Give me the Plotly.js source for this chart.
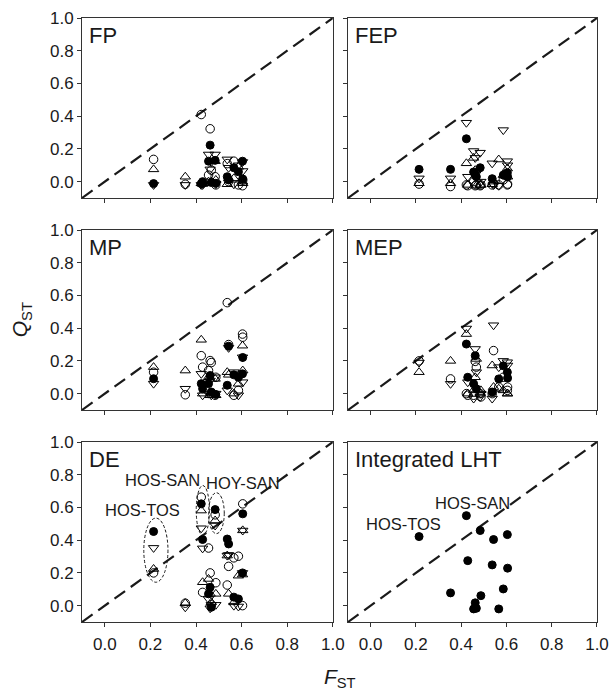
<!DOCTYPE html>
<html>
<head>
<meta charset="utf-8">
<script src="https://cdn.plot.ly/plotly-3.0.1.min.js"></script>
<style>html,body{margin:0;padding:0;background:#fff;}#chart{width:616px;height:690px;}</style>
</head>
<body>
<div id="chart"></div>
<script>
// F_ST of the 15 population pairs
const fst = [0.214, 0.353, 0.423, 0.429, 0.455, 0.462, 0.467, 0.484, 0.487, 0.537, 0.543, 0.566, 0.586, 0.604, 0.605];
const oneToOne = [-0.1, 1.0];
const panelNames = ["FP", "FEP", "MP", "MEP", "DE", "Integrated LHT"];
const tickVals = [0.0, 0.2, 0.4, 0.6, 0.8, 1.0];

// Q_ST values: filled circles, open circles, up triangles, down triangles
const fpFilled = [-0.012, null, -0.012, 0.0, 0.125, 0.223, -0.005, 0.13, -0.01, 0.03, 0.01, 0.085, 0.06, 0.125, 0.016];
const fpOpen   = [0.136, -0.016, 0.41, -0.01, 0.04, 0.323, 0.07, 0.03, -0.02, 0.11, 0.0, 0.125, -0.02, -0.025, 0.01];
const fpUp     = [0.075, 0.03, -0.01, -0.015, 0.0, -0.01, 0.0, 0.125, 0.01, -0.016, 0.02, 0.02, 0.09, 0.0, -0.01];
const fpDown   = [-0.02, -0.02, -0.02, -0.02, 0.166, 0.075, 0.12, 0.166, -0.015, 0.136, 0.085, -0.016, 0.1, 0.12, 0.065];

const fepFilled = [0.075, 0.075, 0.262, null, 0.059, 0.04, 0.03, 0.085, null, 0.018, null, null, 0.04, 0.055, 0.03];
const fepOpen   = [-0.015, -0.03, -0.02, -0.025, 0.0, -0.025, -0.02, -0.025, -0.02, -0.02, -0.01, -0.02, 0.01, -0.02, -0.015];
const fepUp     = [-0.01, -0.01, 0.112, -0.02, 0.145, 0.07, -0.025, -0.02, -0.02, -0.016, 0.0, 0.135, 0.04, 0.08, 0.03];
const fepDown   = [0.02, 0.02, 0.36, 0.03, 0.187, 0.145, 0.05, 0.177, 0.0, 0.112, -0.02, -0.025, 0.315, 0.125, 0.1];

const mpFilled = [0.091, null, 0.061, 0.03, 0.061, 0.111, 0.01, null, -0.005, 0.051, 0.29, 0.115, 0.1, 0.121, 0.221];
const mpOpen   = [0.131, -0.007, 0.232, 0.162, 0.141, 0.202, 0.19, -0.01, 0.1, 0.556, 0.3, -0.01, 0.02, 0.364, 0.345];
const mpUp     = [0.162, 0.141, 0.329, 0.0, 0.1, -0.01, 0.005, 0.09, -0.01, 0.131, 0.115, 0.0, 0.06, 0.293, 0.141];
const mpDown   = [0.061, 0.03, 0.121, -0.01, 0.0, 0.08, -0.01, 0.1, 0.0, 0.02, 0.28, 0.131, -0.01, 0.222, 0.07];

const mepFilled = [null, null, 0.303, 0.1, 0.06, 0.232, 0.03, null, null, 0.01, null, 0.09, 0.17, 0.131, 0.095];
const mepOpen   = [0.2, 0.09, 0.0, -0.01, -0.01, 0.197, 0.162, 0.0, -0.02, 0.0, 0.263, 0.04, 0.1, 0.02, 0.04];
const mepUp     = [0.131, 0.2, 0.364, 0.0, 0.02, 0.1, 0.212, 0.0, 0.02, 0.172, 0.04, 0.03, 0.02, 0.0, 0.0];
const mepDown   = [0.19, 0.06, 0.398, 0.07, -0.03, 0.273, 0.131, -0.02, 0.0, -0.03, 0.418, 0.162, 0.2, 0.192, 0.172];

const deFilled = [0.453, null, 0.622, 0.404, 0.072, 0.112, -0.01, 0.587, null, 0.407, 0.377, 0.052, 0.041, 0.2, 0.561];
const deOpen   = [0.2, 0.015, 0.663, 0.081, 0.352, 0.2, 0.005, 0.555, 0.14, 0.126, 0.24, 0.292, 0.302, 0.0, 0.622];
const deUp     = [0.224, 0.015, 0.581, 0.143, 0.163, 0.072, 0.02, 0.52, 0.072, 0.306, 0.072, 0.02, 0.183, 0.19, 0.46];
const deDown   = [0.353, -0.01, 0.473, 0.35, 0.04, -0.016, 0.005, 0.49, 0.005, 0.306, 0.31, 0.0, -0.005, 0.2, 0.459];

const intFilled = [0.422, 0.078, 0.55, 0.275, -0.02, 0.017, -0.016, 0.459, 0.061, 0.249, 0.404, -0.02, 0.102, 0.434, 0.229];

// pair labels (label, F_ST, Q_ST position) and ellipse extents in DE
const deLabels = [["HOS-SAN", 0.253, 0.77], ["HOY-SAN", 0.608, 0.75], ["HOS-TOS", 0.165, 0.585]];
const intLabels = [["HOS-SAN", 0.45, 0.626], ["HOS-TOS", 0.144, 0.50]];
const deEllipses = [[0.171, 0.277, 0.143, 0.535], [0.401, 0.459, 0.43, 0.734], [0.455, 0.524, 0.44, 0.69]];

const panels = [
  [fpFilled, fpOpen, fpUp, fpDown],
  [fepFilled, fepOpen, fepUp, fepDown],
  [mpFilled, mpOpen, mpUp, mpDown],
  [mepFilled, mepOpen, mepUp, mepDown],
  [deFilled, deOpen, deUp, deDown],
  [intFilled]
];

const FONT = "Liberation Sans, Arial, sans-serif";
const INK = "#1a1a1a";
const symbols = ["circle", "circle-open", "triangle-up-open", "triangle-down-open"];
const sizes = [8, 8.5, 9, 9];

const traces = [];
const layout = {
  width: 616, height: 690,
  margin: {l: 82, r: 19, t: 18, b: 68},
  paper_bgcolor: "#fff", plot_bgcolor: "#fff",
  showlegend: false,
  font: {family: FONT, color: INK},
  annotations: [], shapes: []
};

const xDomains = [[0, 0.487], [0.5165, 1]];
const yDomains = [[0.702, 1], [0.351, 0.649], [0, 0.298]];

panels.forEach((series, i) => {
  const n = i + 1;
  const xa = "x" + (n === 1 ? "" : n), ya = "y" + (n === 1 ? "" : n);
  const col = i % 2, row = Math.floor(i / 2);
  // 1:1 reference line
  traces.push({x: oneToOne, y: oneToOne, xaxis: xa, yaxis: ya, mode: "lines",
    line: {color: INK, width: 2.2, dash: "13px,7px"}, hoverinfo: "skip"});
  series.forEach((ys, s) => {
    traces.push({x: fst, y: ys, xaxis: xa, yaxis: ya, mode: "markers",
      marker: {symbol: symbols[s], size: sizes[s], color: "#000", line: {color: "#000", width: 1}}});
  });
  const axBase = {range: [-0.1, 1.0], showgrid: false, zeroline: false, showline: true, mirror: true,
    linecolor: "#333", linewidth: 1, ticks: "outside", ticklen: 4, tickcolor: "#333",
    tickvals: tickVals, tickformat: ".1f", tickfont: {family: FONT, size: 17, color: INK}, fixedrange: true};
  layout["xaxis" + (n === 1 ? "" : n)] = Object.assign({}, axBase, {domain: xDomains[col], anchor: ya,
    showticklabels: row === 2, ticklabelstandoff: 3});
  layout["yaxis" + (n === 1 ? "" : n)] = Object.assign({}, axBase, {domain: yDomains[row], anchor: xa,
    showticklabels: col === 0});
  layout.annotations.push({text: panelNames[i], xref: xa + " domain", yref: ya + " domain",
    x: 0.02, y: 0.985, xanchor: "left", yanchor: "top", showarrow: false,
    font: {family: FONT, size: 22, color: INK}});
});

deLabels.forEach(l => layout.annotations.push({text: l[0], xref: "x5", yref: "y5", x: l[1], y: l[2],
  showarrow: false, font: {family: FONT, size: 16.5, color: INK}}));
intLabels.forEach(l => layout.annotations.push({text: l[0], xref: "x6", yref: "y6", x: l[1], y: l[2],
  showarrow: false, font: {family: FONT, size: 16.5, color: INK}}));
deEllipses.forEach(e => layout.shapes.push({type: "circle", xref: "x5", yref: "y5",
  x0: e[0], x1: e[1], y0: e[2], y1: e[3], line: {color: INK, width: 1, dash: "3px,2px"}}));

// axis titles
layout.annotations.push({text: "<i>F</i><sub>ST</sub>", xref: "paper", yref: "paper", x: 0.5, y: -0.093,
  xanchor: "center", yanchor: "middle", showarrow: false, font: {family: FONT, size: 21, color: INK}});
layout.annotations.push({text: "<i>Q</i><sub>ST</sub>", xref: "paper", yref: "paper", x: -0.118, y: 0.5,
  xanchor: "center", yanchor: "middle", textangle: -90, showarrow: false, font: {family: FONT, size: 21, color: INK}});

Plotly.newPlot("chart", traces, layout, {displayModeBar: false, staticPlot: true});
</script>
</body>
</html>
